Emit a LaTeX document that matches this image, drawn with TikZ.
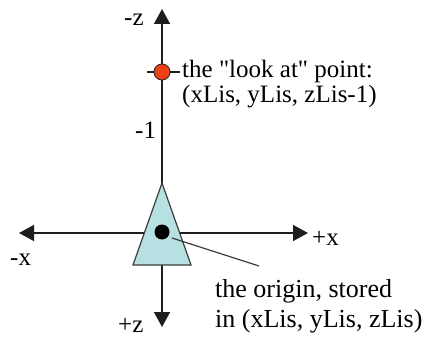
\documentclass[tikz,border=0pt]{standalone}
\usepackage{fontspec}
\setmainfont{Liberation Serif}[Ligatures=TeXOff]
\usetikzlibrary{arrows.meta}
\definecolor{axcol}{RGB}{30,30,30}
\definecolor{trifill}{RGB}{182,224,226}
\definecolor{tridraw}{RGB}{60,60,60}
\definecolor{lookfill}{RGB}{236,66,22}
\definecolor{lookdraw}{RGB}{70,40,30}
\begin{document}
\begin{tikzpicture}[x=1pt,y=-1pt,
  axis/.style={line width=1.6pt, draw=axcol, -{Triangle[length=15pt,width=16pt]}},
  lbl/.style={font=\fontsize{25}{28}\selectfont, inner sep=0pt, anchor=base west},
  blbl/.style={font=\fontsize{26}{30}\selectfont, inner sep=0pt, anchor=base west},
  dot/.style={circle, inner sep=0pt},
  thin/.style={line width=1.2pt, draw=tridraw}]
\useasboundingbox (0,0) rectangle (430,339);
% axes
\coordinate (C) at (162,233);
\coordinate (zt) at (162,9);
\coordinate (zb) at (162,327);
\coordinate (xl) at (19,233);
\coordinate (xr) at (308,233);
\draw[axis] (C) -- (zt);
\draw[axis] (C) -- (zb);
\draw[axis] (C) -- (xl);
\draw[axis] (C) -- (xr);
% camera triangle
\draw[thin, fill=trifill] (162,183) -- (191,265) -- (133,265) -- cycle;
% origin dot
\node[dot, fill=black, minimum size=15pt] (odot) at (162,232) {};
\coordinate (oend) at (259,266);
\draw[thin, shorten <=4pt] (odot.-38) -- (oend);
% look-at point
\coordinate (tl) at (147,72);
\coordinate (tr) at (180,72);
\draw[line width=1.4pt, draw=axcol] (tl) -- (tr);
\node[dot, fill=lookfill, draw=lookdraw, line width=1pt, minimum size=16pt] (look) at (162,72) {};
% labels
\node[lbl] (mz) at (124,26) {-z};
\node[lbl] (m1) at (135,139) {-1};
\node[lbl] (mx) at (10,265) {-x};
\node[lbl] (px) at (312,245) {+x};
\node[lbl] (pz) at (118,332) {+z};
\node[lbl] (la1) at (182,78) {the "look at" point:};
\node[lbl] (la2) at (182,103) {(xLis, yLis, zLis-1)};
\node[blbl] (or1) at (215,297) {the origin, stored};
\node[blbl] (or2) at (215,327) {in (xLis, yLis, zLis)};
\end{tikzpicture}
\end{document}
